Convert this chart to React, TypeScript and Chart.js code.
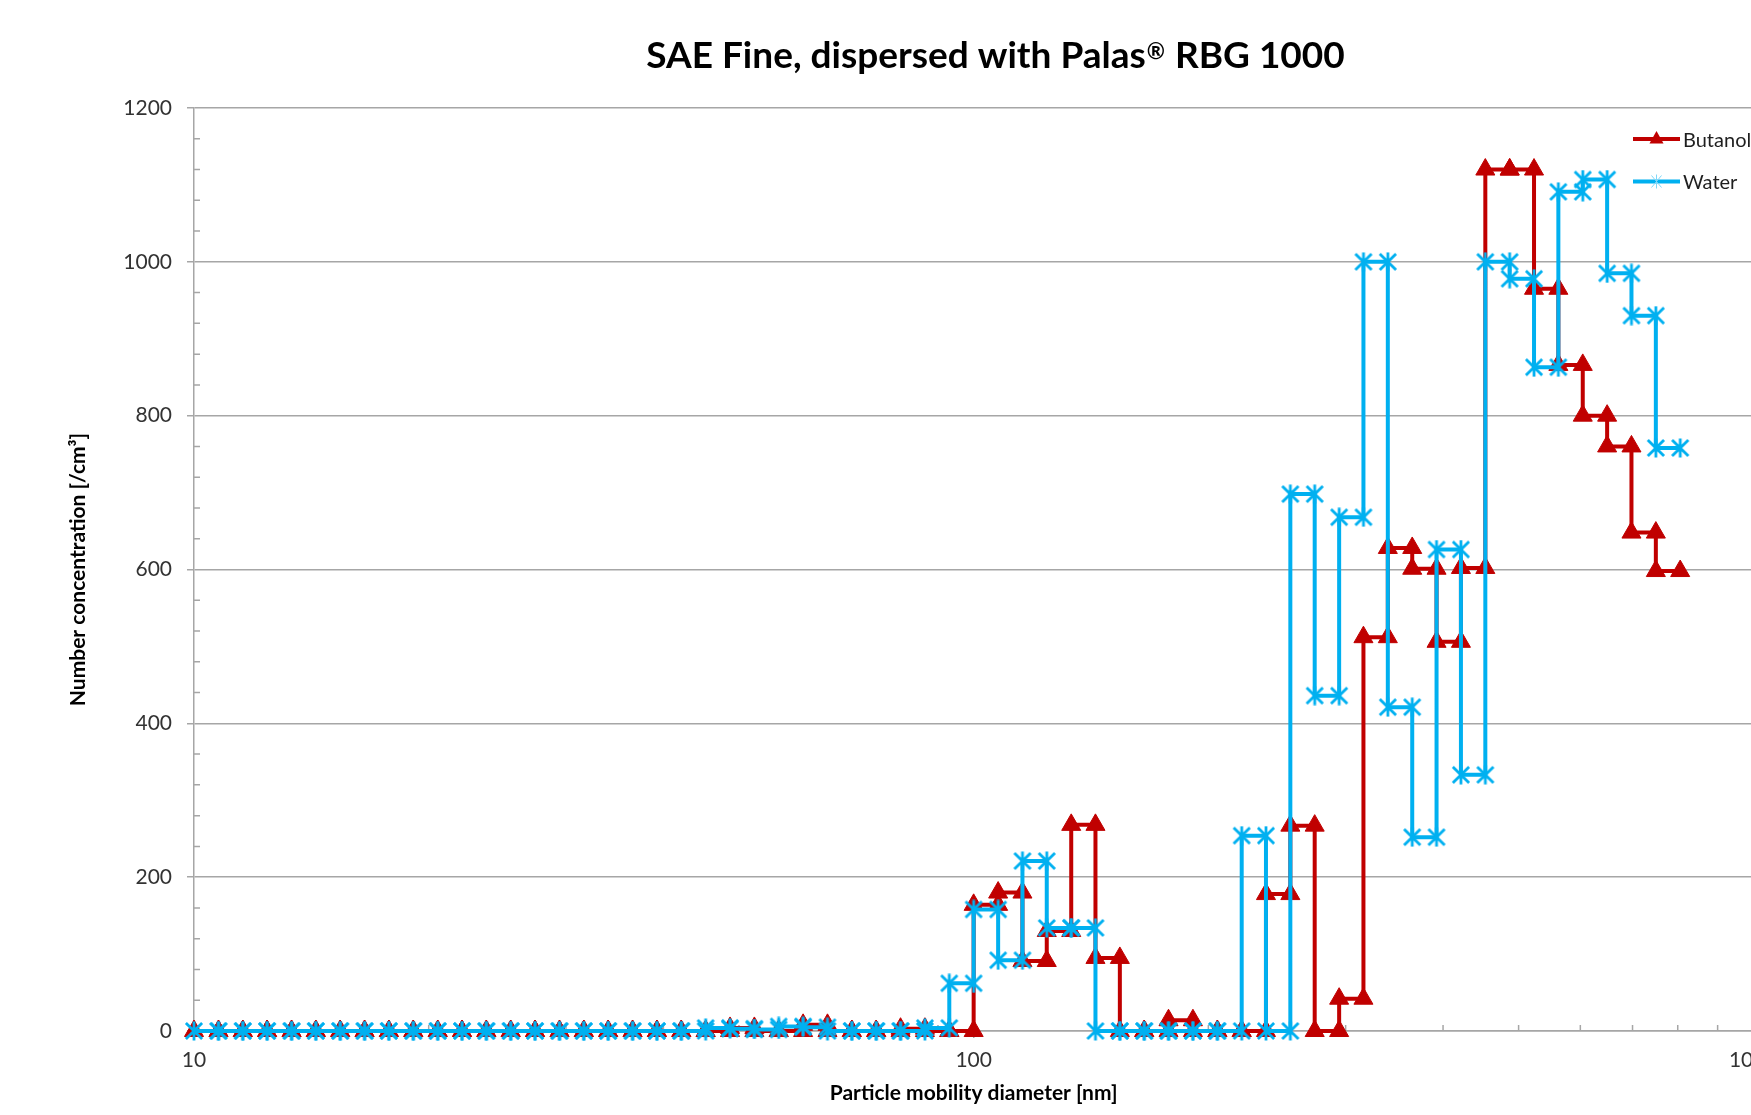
import React, { useEffect, useRef } from 'react';
import { Chart, registerables } from 'chart.js';

Chart.register(...registerables);

// ---------- data ----------
// SMPS channel edges (nm), 32 channels per decade
const binEdges = [
  10.0, 10.75, 11.55, 12.41, 13.34, 14.33, 15.4, 16.55, 17.78, 19.11,
  20.54, 22.07, 23.71, 25.48, 27.38, 29.43, 31.62, 33.98, 36.52, 39.24,
  42.17, 45.32, 48.7, 52.33, 56.23, 60.43, 64.94, 69.78, 74.99, 80.58,
  86.6, 93.06, 100.0, 107.5, 115.5, 124.1, 133.4, 143.3, 154.0, 165.5,
  177.8, 191.1, 205.4, 220.7, 237.1, 254.8, 273.8, 294.3, 316.2, 339.8,
  365.2, 392.4, 421.7, 453.2, 487.0, 523.3, 562.3, 604.3, 649.4, 697.8,
  749.9, 805.8,
];

// number concentration per channel [/cm³]
const butanolValues = [
  0, 0, 0, 0, 0, 0, 0, 0, 0, 0,
  0, 0, 0, 0, 0, 0, 0, 0, 0, 0,
  0, 0, 4, 0, 0, 8, 0, 0, 0, 3,
  0, 0, 164, 180, 91, 130, 268, 95, 0, 0,
  14, 0, 0, 0, 178, 267, 0, 42, 512, 628,
  601, 506, 602, 1120, 1120, 965, 866, 800, 760, 648,
  598,
];

const waterValues = [
  0, 0, 0, 0, 0, 0, 0, 0, 0, 0,
  0, 0, 0, 0, 0, 0, 0, 0, 0, 0,
  0, 4, 3, 2, 6, 5, 0, 0, 0, 0,
  4, 62, 158, 92, 221, 134, 134, 0, 0, 0,
  0, 0, 0, 254, 0, 698, 436, 668, 1000, 421,
  252, 626, 333, 1000, 978, 863, 1091, 1107, 985, 930,
  758,
];

const seriesLabels = ['Butanol', 'Water'];
const xMajorTicks = [10, 100, 1000];
const xMinorTicks = [20, 30, 40, 50, 60, 70, 80, 90, 200, 300, 400, 500, 600, 700, 800, 900];
const yMinorTicks = [
  40, 80, 120, 160, 240, 280, 320, 360, 440, 480, 520, 560,
  640, 680, 720, 760, 840, 880, 920, 960, 1040, 1080, 1120, 1160,
];
const titleParts = ['SAE Fine, dispersed with Palas', '®', ' RBG 1000'];
const xTitle = 'Particle mobility diameter [nm]';
const yTitle = 'Number concentration [/cm³]';

// ---------- style ----------
const CANVAS_W = 1991;
const CANVAS_H = 1115;
const RED = '#C00000';
const BLUE = '#00B0F0';
const GRID = '#A6A6A6';
const FONT = 'Lato';

function stepPoints(values: number[]) {
  const pts: { x: number; y: number }[] = [];
  values.forEach((v, i) => {
    pts.push({ x: binEdges[i], y: v });
    pts.push({ x: binEdges[i + 1], y: v });
  });
  return pts;
}

function makeStar(size: number, lw: number, color: string) {
  const c = document.createElement('canvas');
  c.width = size;
  c.height = size;
  const g = c.getContext('2d')!;
  g.strokeStyle = color;
  g.lineWidth = lw;
  const p = lw / 2 + 0.5;
  g.beginPath();
  g.moveTo(p, p);
  g.lineTo(size - p, size - p);
  g.moveTo(size - p, p);
  g.lineTo(p, size - p);
  g.moveTo(size / 2, 0.5);
  g.lineTo(size / 2, size - 0.5);
  g.stroke();
  return c;
}

const minorTicksPlugin = {
  id: 'minorTicks',
  beforeDatasetsDraw(chart: any) {
    const { ctx, chartArea, scales } = chart;
    ctx.save();
    ctx.strokeStyle = GRID;
    ctx.lineWidth = 1.5;
    ctx.beginPath();
    for (const v of yMinorTicks) {
      const y = scales.y.getPixelForValue(v);
      ctx.moveTo(chartArea.left, y);
      ctx.lineTo(chartArea.left + 6, y);
    }
    for (const v of xMinorTicks) {
      const x = scales.x.getPixelForValue(v);
      ctx.moveTo(x, chartArea.bottom);
      ctx.lineTo(x, chartArea.bottom - 6);
    }
    ctx.stroke();
    ctx.restore();
  },
};

const titlePlugin = {
  id: 'excelTitle',
  afterDraw(chart: any) {
    const ctx = chart.ctx;
    const big = `bold 37px ${FONT}`;
    const small = `bold 22px ${FONT}`;
    const baseline = 68;
    ctx.save();
    ctx.fillStyle = '#000';
    ctx.textAlign = 'left';
    ctx.textBaseline = 'alphabetic';
    ctx.font = big;
    const w0 = ctx.measureText(titleParts[0]).width;
    const w2 = ctx.measureText(titleParts[2]).width;
    ctx.font = small;
    const w1 = ctx.measureText(titleParts[1]).width + 2;
    let x = chart.width / 2 - (w0 + w1 + w2) / 2;
    ctx.font = big;
    ctx.fillText(titleParts[0], x, baseline);
    x += w0;
    ctx.font = small;
    ctx.fillText(titleParts[1], x + 1, baseline - 9);
    x += w1;
    ctx.font = big;
    ctx.fillText(titleParts[2], x, baseline);
    ctx.restore();
  },
};

const legendPlugin = {
  id: 'excelLegend',
  afterDraw(chart: any) {
    const ctx = chart.ctx;
    const x0 = 1633;
    const x1 = 1680;
    const rows = [139, 181.5];
    ctx.save();
    chart.data.datasets.forEach((ds: any, i: number) => {
      const y = rows[i];
      const cx = (x0 + x1) / 2;
      ctx.strokeStyle = ds.borderColor;
      ctx.lineWidth = 4;
      ctx.beginPath();
      ctx.moveTo(x0, y);
      ctx.lineTo(x1, y);
      ctx.stroke();
      if (i === 0) {
        ctx.fillStyle = ds.borderColor;
        ctx.beginPath();
        ctx.moveTo(cx, y - 8);
        ctx.lineTo(cx + 7, y + 4.5);
        ctx.lineTo(cx - 7, y + 4.5);
        ctx.closePath();
        ctx.fill();
      } else {
        ctx.strokeStyle = '#7FD7F7';
        ctx.lineWidth = 1;
        ctx.beginPath();
        ctx.moveTo(cx - 5, y - 6);
        ctx.lineTo(cx + 5, y + 6);
        ctx.moveTo(cx + 5, y - 6);
        ctx.lineTo(cx - 5, y + 6);
        ctx.moveTo(cx, y - 7);
        ctx.lineTo(cx, y + 7);
        ctx.stroke();
      }
      ctx.fillStyle = '#1f1f1f';
      ctx.font = `20px ${FONT}`;
      ctx.textAlign = 'left';
      ctx.textBaseline = 'alphabetic';
      ctx.fillText(ds.label, x1 + 3, y + 7.5);
    });
    ctx.restore();
  },
};

export default function App() {
  const ref = useRef<HTMLCanvasElement>(null);

  useEffect(() => {
    const canvas = ref.current;
    if (!canvas) return;
    const star = makeStar(20, 2.8, BLUE);
    const chart = new Chart(canvas, {
      type: 'line',
      data: {
        datasets: [
          {
            label: seriesLabels[0],
            data: stepPoints(butanolValues),
            borderColor: RED,
            backgroundColor: RED,
            borderWidth: 4,
            pointStyle: 'triangle',
            pointRadius: 11,
            pointBackgroundColor: RED,
            pointBorderColor: RED,
            pointBorderWidth: 1,
            tension: 0,
            clip: false,
            order: 1,
          } as any,
          {
            label: seriesLabels[1],
            data: stepPoints(waterValues),
            borderColor: BLUE,
            backgroundColor: BLUE,
            borderWidth: 4,
            pointStyle: star,
            pointRadius: 10,
            tension: 0,
            clip: false,
            order: 0,
          } as any,
        ],
      },
      options: {
        responsive: false,
        animation: false,
        devicePixelRatio: 1,
        events: [],
        layout: {
          padding: { left: 0, top: 108, right: CANVAS_W - 1753.3, bottom: 9 },
        },
        plugins: {
          legend: { display: false },
          title: { display: false },
          tooltip: { enabled: false },
        },
        scales: {
          x: {
            type: 'logarithmic',
            min: 10,
            max: 1000,
            afterBuildTicks: (s: any) => {
              s.ticks = xMajorTicks.map((v) => ({ value: v }));
            },
            afterFit: (s: any) => {
              s.height = 75;
            },
            ticks: {
              callback: (v: any) => String(v),
              autoSkip: false,
              maxRotation: 0,
              padding: 10,
              color: '#333333',
              font: { family: FONT, size: 21 },
            },
            grid: { drawOnChartArea: false, color: GRID, lineWidth: 1.5, tickLength: 7 },
            border: { display: true, color: GRID, width: 1.5 },
            title: {
              display: true,
              text: xTitle,
              color: '#000',
              font: { family: FONT, size: 21, weight: 'bold' },
              padding: { top: 0, bottom: 0 },
            },
          },
          y: {
            min: 0,
            max: 1200,
            afterFit: (s: any) => {
              s.width = 194;
            },
            ticks: {
              stepSize: 200,
              callback: (v: any) => String(v),
              padding: 15,
              color: '#333333',
              font: { family: FONT, size: 21 },
            },
            grid: { color: GRID, lineWidth: 1.5, tickLength: 7 },
            border: { display: true, color: GRID, width: 1.5 },
            title: {
              display: true,
              text: yTitle,
              color: '#000',
              font: { family: FONT, size: 21, weight: 'bold' },
              padding: { top: 66, bottom: 0 },
            },
          },
        },
      } as any,
      plugins: [minorTicksPlugin, titlePlugin, legendPlugin],
    });
    let alive = true;
    if ((document as any).fonts && (document as any).fonts.ready) {
      (document as any).fonts.ready.then(() => {
        if (alive) chart.update();
      });
    }
    return () => {
      alive = false;
      chart.destroy();
    };
  }, []);

  return (
    <div
      style={{
        position: 'fixed',
        left: 0,
        top: 0,
        width: '100vw',
        height: '100vh',
        overflow: 'hidden',
        background: '#fff',
      }}
    >
      <canvas
        ref={ref}
        width={CANVAS_W}
        height={CANVAS_H}
        style={{ display: 'block', width: `${CANVAS_W}px`, height: `${CANVAS_H}px` }}
      />
    </div>
  );
}
